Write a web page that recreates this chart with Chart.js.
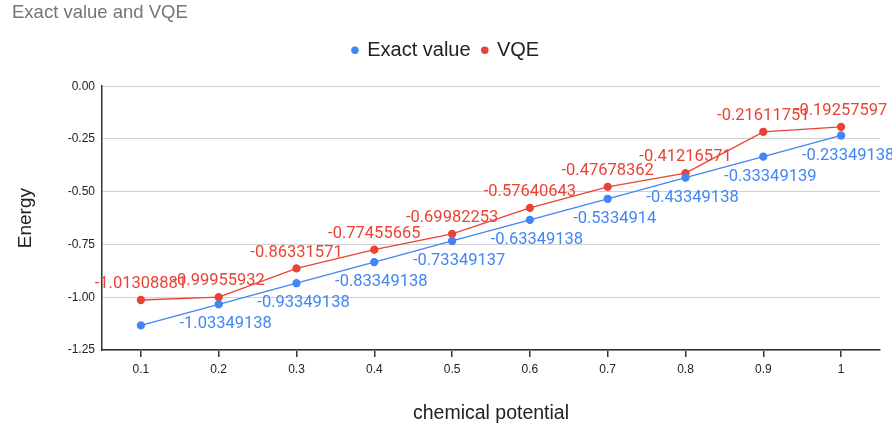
<!DOCTYPE html>
<html>
<head>
<meta charset="utf-8">
<script src="https://cdn.jsdelivr.net/npm/chart.js@4/dist/chart.umd.min.js"></script>
<style>
  html, body { margin: 0; padding: 0; background: #fff; }
  #wrap { width: 892px; height: 431px; }
</style>
</head>
<body>
<div id="wrap"><canvas id="energyChart"></canvas></div>
<script>
const potentials = ['0.1', '0.2', '0.3', '0.4', '0.5', '0.6', '0.7', '0.8', '0.9', '1'];
const exactValues = [-1.13349138, -1.03349138, -0.93349138, -0.83349138, -0.73349137,
    -0.63349138, -0.5334914, -0.43349138, -0.33349139, -0.23349138];
const vqeValues = [-1.01308881, -0.99955932, -0.86331571, -0.77455665, -0.69982253,
    -0.57640643, -0.47678362, -0.41216571, -0.21611751, -0.19257597];
const yTicks = [0, -0.25, -0.5, -0.75, -1, -1.25];

// labels that are not shown in the picture (dataset index -> point indexes)
const hiddenLabels = { 0: [0] };

const blue = '#4285f4';
const red = '#ea4335';

// draws the value next to each point
const pointLabels = {
    id: 'pointLabels',
    afterDatasetsDraw(chart) {
        const ctx = chart.ctx;
        ctx.save();
        ctx.font = '16.5px Roboto';
        ctx.textAlign = 'center';
        ctx.textBaseline = 'middle';
        chart.data.datasets.forEach((ds, i) => {
            const meta = chart.getDatasetMeta(i);
            const skip = hiddenLabels[i] || [];
            ctx.fillStyle = ds.borderColor;
            meta.data.forEach((pt, j) => {
                if (skip.includes(j)) return;
                const dx = i === 0 ? 7 : 0;
                const dy = i === 0 ? 20 : -16;
                ctx.fillText(String(ds.data[j]), pt.x + dx, pt.y + dy);
            });
        });
        ctx.restore();
    }
};

// extra room under the legend
const legendGap = {
    id: 'legendGap',
    beforeInit(chart) {
        const fit = chart.legend.fit;
        chart.legend.fit = function () {
            fit.bind(chart.legend)();
            this.height += 16;
        };
    }
};

const ctx = document.getElementById('energyChart').getContext('2d');
new Chart(ctx, {
    type: 'line',
    data: {
        labels: potentials,
        datasets: [{
            label: 'Exact value',
            data: exactValues,
            borderColor: blue,
            backgroundColor: blue,
            borderWidth: 1.3,
            pointRadius: 3.5,
            pointHoverRadius: 3.5,
            tension: 0
        }, {
            label: 'VQE',
            data: vqeValues,
            borderColor: red,
            backgroundColor: red,
            borderWidth: 1.3,
            pointRadius: 3.5,
            pointHoverRadius: 3.5,
            tension: 0
        }]
    },
    options: {
        responsive: true,
        maintainAspectRatio: false,
        animation: false,
        layout: { padding: { left: 12, right: 12, top: 0, bottom: 6 } },
        plugins: {
            title: {
                display: true,
                text: 'Exact value and VQE',
                align: 'start',
                color: '#757575',
                font: { family: 'Arial', size: 18.5, weight: 'normal' },
                padding: { top: 2, bottom: 4 },
                fullSize: true
            },
            legend: {
                position: 'top',
                labels: {
                    usePointStyle: true,
                    pointStyle: 'circle',
                    boxWidth: 4.4,
                    boxHeight: 4.4,
                    padding: 12,
                    color: '#222',
                    font: { family: 'Arial', size: 20 }
                }
            },
            tooltip: { enabled: false }
        },
        scales: {
            x: {
                offset: true,
                grid: {
                    display: true,
                    drawOnChartArea: false,
                    drawTicks: true,
                    tickLength: 7,
                    color: '#333',
                    lineWidth: 1.5
                },
                border: { color: '#333', width: 1.5 },
                ticks: {
                    color: '#222',
                    font: { family: 'Arial', size: 12 },
                    padding: 5,
                    maxRotation: 0
                },
                title: {
                    display: true,
                    text: 'chemical potential',
                    color: '#222',
                    font: { family: 'Arial', size: 19.5 },
                    padding: { top: 26, bottom: 0 }
                },
                afterFit(scale) { scale.height = 75; }
            },
            y: {
                min: -1.25,
                max: 0,
                afterBuildTicks(scale) {
                    scale.ticks = yTicks.map(v => ({ value: v }));
                },
                grid: {
                    color: '#d0d0d0',
                    drawTicks: false
                },
                border: { color: '#333', width: 1.5 },
                ticks: {
                    color: '#222',
                    font: { family: 'Arial', size: 12 },
                    padding: 7,
                    callback: v => v.toFixed(2)
                },
                title: {
                    display: true,
                    text: 'Energy',
                    color: '#222',
                    font: { family: 'Arial', size: 19 },
                    padding: { top: 2, bottom: 18 }
                },
                afterFit(scale) { scale.width = 90; }
            }
        }
    },
    plugins: [pointLabels, legendGap]
});
</script>
</body>
</html>
